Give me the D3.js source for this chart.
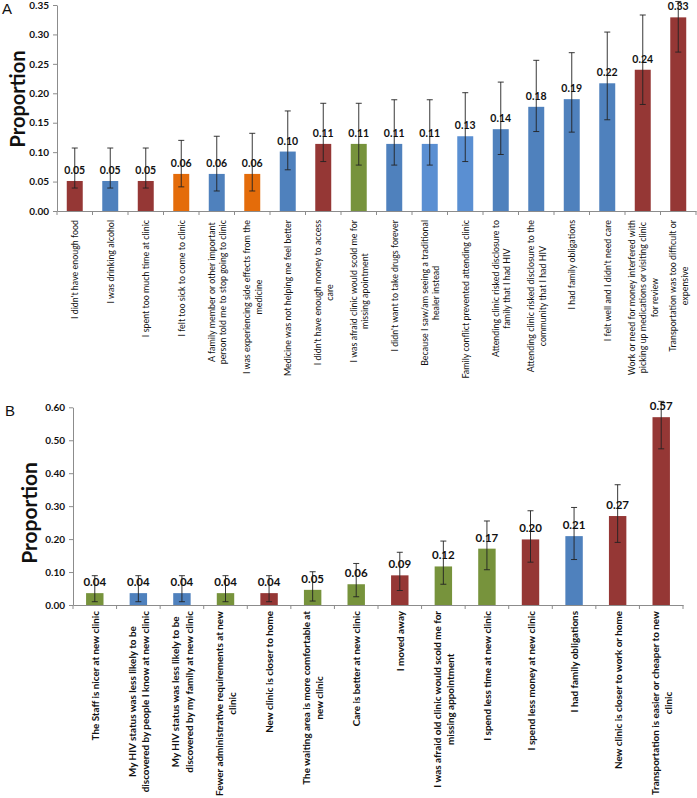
<!DOCTYPE html>
<html><head><meta charset="utf-8">
<script src="https://cdn.jsdelivr.net/npm/d3@7"></script>
<style>
body{margin:0;background:#fff;}
svg{display:block;font-family:Lato,"Open Sans",sans-serif;}
</style></head>
<body><svg id="c" width="697" height="798"></svg>
<script>
// ---------- Panel A data ----------
const catsA = [
 "I didn't have enough food",
 "I was drinking alcohol",
 "I spent too much time at clinic",
 "I felt too sick to come to clinic",
 "A family member or other important\nperson told me to stop going to clinic",
 "I was experiencing side effects from the\nmedicine",
 "Medicine was not helping me feel better",
 "I didn't have enough money to access\ncare",
 "I was afraid clinic would scold me for\nmissing apointment",
 "I didn't want to take drugs forever",
 "Because I saw/am seeing a traditional\nhealer instead",
 "Family conflict prevented attending clinic",
 "Attending clinic risked disclosure to\nfamily that I had HIV",
 "Attending clinic risked disclosure to the\ncommunity that I had HIV",
 "I had family obligations",
 "I felt well and I didn't need care",
 "Work or need for money interfered with\npicking up medications or visiting clinic\nfor review",
 "Transportation was too difficult or\nexpensive"
];
const valuesA = [0.051,0.051,0.051,0.063,0.063,0.063,0.101,0.114,0.114,0.114,0.114,0.127,0.139,0.177,0.190,0.217,0.240,0.329];
const lowA    = [0.039,0.039,0.039,0.041,0.034,0.034,0.070,0.084,0.078,0.078,0.078,0.084,0.096,0.135,0.134,0.155,0.181,0.270];
const highA   = [0.107,0.107,0.107,0.120,0.127,0.132,0.170,0.183,0.183,0.189,0.189,0.201,0.219,0.256,0.269,0.304,0.333,0.356];
const groupA  = ["r","b","r","o","b","o","b","r","g","b","lb","lb","b","b","b","b","r","r"];
const ticksA  = [0,0.05,0.10,0.15,0.20,0.25,0.30,0.35];

// ---------- Panel B data ----------
const catsB = [
 "The Staff is nicer at new clinic",
 "My HIV status was less likely to be\ndiscovered by people I know at new clinic",
 "My HIV status was less likely to be\ndiscovered by my family at new clinic",
 "Fewer administrative requirements at new\nclinic",
 "New clinic is closer to home",
 "The waiting area is more comfortable at\nnew clinic",
 "Care is better at new clinic",
 "I moved away",
 "I was afraid old clinic would scold me for\nmissing appointment",
 "I spend less time at new clinic",
 "I spend less money at new clinic",
 "I had family obligations",
 "New clinic is closer to work or home",
 "Transportation is easier or cheaper to new\nclinic"
];
const valuesB = [0.036,0.036,0.036,0.036,0.036,0.046,0.063,0.090,0.117,0.171,0.199,0.209,0.270,0.570];
const lowB    = [0.010,0.010,0.010,0.010,0.010,0.012,0.025,0.044,0.063,0.107,0.130,0.138,0.190,0.474];
const highB   = [0.089,0.089,0.089,0.089,0.089,0.101,0.126,0.160,0.194,0.255,0.286,0.296,0.365,0.618];
const groupB  = ["g","b","b","g","r","g","g","r","g","g","r","b","r","r"];
const ticksB  = [0,0.10,0.20,0.30,0.40,0.50,0.60];

const colors = {r:"#953735", b:"#4F81BD", lb:"#5A8FD2", o:"#E46C0A", g:"#77933C"};

const svg = d3.select("#c");

function panel(cfg){
  const g = svg.append("g");
  const x = d3.scaleBand().domain(cfg.cats).range([cfg.left, cfg.right]).padding(0);
  const y = d3.scaleLinear().domain([0, cfg.ymax]).range([cfg.bottom, cfg.top]);
  const bw = x.bandwidth()*cfg.barFrac;

  // y axis
  const ya = g.append("g").attr("transform",`translate(${cfg.left},0)`)
    .call(d3.axisLeft(y).tickValues(cfg.ticks).tickFormat(d3.format(".2f")).tickSize(4).tickSizeOuter(0).tickPadding(4));
  ya.select(".domain").attr("stroke","#8c8c8c");
  ya.selectAll(".tick line").attr("stroke","#8c8c8c");
  ya.selectAll(".tick text").attr("font-size",cfg.tickFont).attr("font-weight","bold").attr("fill","#111").attr("font-family","Lato");

  // x axis
  const xa = g.append("g").attr("transform",`translate(0,${cfg.bottom})`)
    .call(d3.axisBottom(x).tickSize(0).tickSizeOuter(0).tickFormat(""));
  xa.select(".domain").attr("stroke","#8c8c8c");
  const bounds = cfg.cats.map(c=>x(c)).concat([x(cfg.cats[cfg.cats.length-1])+x.bandwidth()]);
  g.selectAll(".xt").data(bounds).join("line")
    .attr("x1",d=>d).attr("x2",d=>d).attr("y1",cfg.bottom).attr("y2",cfg.bottom+4)
    .attr("stroke","#8c8c8c");

  // bars
  g.selectAll(".bar").data(cfg.values).join("rect")
    .attr("x",(d,i)=>x(cfg.cats[i])+(x.bandwidth()-bw)/2)
    .attr("width",bw)
    .attr("y",d=>y(d)).attr("height",d=>cfg.bottom-y(d))
    .attr("fill",(d,i)=>colors[cfg.groups[i]]);

  // error bars
  const cx = i => x(cfg.cats[i])+x.bandwidth()/2;
  const eb = g.selectAll(".eb").data(cfg.values).join("g");
  eb.append("line").attr("x1",(d,i)=>cx(i)).attr("x2",(d,i)=>cx(i))
    .attr("y1",(d,i)=>y(cfg.low[i])).attr("y2",(d,i)=>y(cfg.high[i]))
    .attr("stroke","#222").attr("stroke-width",0.9);
  [cfg.low, cfg.high].forEach(arr=>{
    eb.append("line").attr("x1",(d,i)=>cx(i)-3).attr("x2",(d,i)=>cx(i)+3)
      .attr("y1",(d,i)=>y(arr[i])).attr("y2",(d,i)=>y(arr[i]))
      .attr("stroke","#222").attr("stroke-width",0.9);
  });

  // value labels
  g.selectAll(".vl").data(cfg.values).join("text")
    .attr("x",(d,i)=>cx(i)).attr("y",d=>y(d)-cfg.labelGap)
    .attr("text-anchor","middle").attr("font-size",cfg.valFont).attr("font-weight","bold")
    .attr("fill","#111").text(d=>d3.format(".2f")(d));

  // category labels (rotated, lines centered, block end at axis)
  cfg.cats.forEach((c,i)=>{
    const lines = c.split("\n");
    const n = lines.length;
    const lg = g.append("g").attr("transform",`translate(${cx(i)},${cfg.bottom+cfg.catGap}) rotate(-90)`);
    const t = lg.append("text").attr("text-anchor","middle").attr("font-size",cfg.catFont)
      .attr("font-weight",cfg.catBold?"bold":"normal").attr("fill","#111");
    const ts = lines.map((ln,k)=>t.append("tspan").attr("y",(k-(n-1)/2)*cfg.lineH)
      .attr("dominant-baseline","central").text(ln));
    const w = d3.max(ts, s=>s.node().getComputedTextLength());
    ts.forEach(s=>s.attr("x",-w/2));
  });

  // y title
  svg.append("text").attr("transform",`translate(${cfg.titleX},${cfg.titleY}) rotate(-90)`)
    .attr("text-anchor","middle").attr("font-size",cfg.titleFont).attr("font-weight","bold")
    .attr("fill","#111").text("Proportion");
  svg.append("text").attr("x",cfg.letterX).attr("y",cfg.letterY).attr("font-size",15)
    .attr("font-family","Liberation Sans").attr("fill","#111").text(cfg.letter);
}

panel({cats:catsA, values:valuesA, low:lowA, high:highA, groups:groupA, ticks:ticksA,
  ymax:0.35, left:57, right:696, top:5, bottom:211, barFrac:0.45,
  tickFont:10, valFont:10.5, labelGap:7, catGap:9, catFont:8.9, catBold:false, lineH:11.5,
  titleX:25, titleY:99, titleFont:20, letter:"A", letterX:2, letterY:14});

panel({cats:catsB, values:valuesB, low:lowB, high:highB, groups:groupB, ticks:ticksB,
  ymax:0.60, left:73, right:683, top:407.3, bottom:605, barFrac:0.40,
  tickFont:10, valFont:11.5, labelGap:7, catGap:6, catFont:9.9, catBold:true, lineH:13.3,
  titleX:37, titleY:513, titleFont:21, letter:"B", letterX:5, letterY:416});
</script></body></html>
